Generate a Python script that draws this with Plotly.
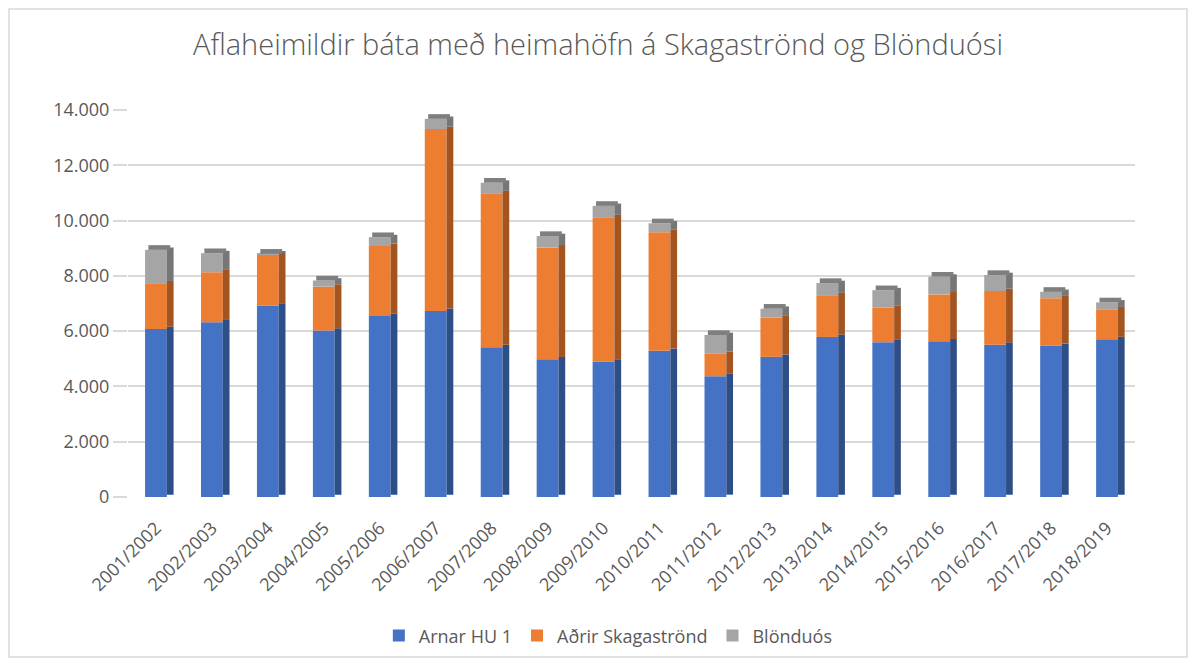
import numpy as np
import plotly.graph_objects as go

seasons = ['2001/2002', '2002/2003', '2003/2004', '2004/2005', '2005/2006', '2006/2007',
           '2007/2008', '2008/2009', '2009/2010', '2010/2011', '2011/2012', '2012/2013',
           '2013/2014', '2014/2015', '2015/2016', '2016/2017', '2017/2018', '2018/2019']
arnar = [6080, 6320, 6920, 6020, 6550, 6730, 5420, 4980, 4900, 5290, 4370, 5070,
         5790, 5600, 5630, 5510, 5470, 5710]
adrir = [1650, 1810, 1840, 1590, 2530, 6580, 5570, 4050, 5220, 4290, 810, 1420,
         1510, 1250, 1700, 1940, 1720, 1080]
blonduos = [1210, 690, 40, 220, 320, 370, 380, 410, 410, 320, 680, 320,
            440, 630, 640, 580, 230, 250]
series_names = ['Arnar HU 1', 'Aðrir Skagaströnd', 'Blönduós']

FACE = ['#4472c4', '#ed7d31', '#a5a5a5']
SIDE = ['#2e4e88', '#a4541f', '#767676']
TOP = '#7f7f7f'
BAR_W = 0.39
DEPTH_W = 0.12
RISE = 170
FONT = 'Open Sans'
GREY_TXT = '#595959'

W, H = 1180, 650
L, R, T, B = 120, 53, 102, 161
PW, PH = W - L - R, H - T - B

values = [np.array(arnar), np.array(adrir), np.array(blonduos)]
bases = [np.zeros(len(seasons)), values[0], values[0] + values[1]]
total = values[0] + values[1] + values[2]

fig = go.Figure()
for i in range(3):
    fig.add_trace(go.Bar(x=seasons, y=values[i], base=bases[i], name=series_names[i],
                         marker=dict(color=FACE[i], line=dict(width=0)),
                         width=BAR_W, offset=-BAR_W / 2, hoverinfo='skip'))
# darker side faces and top caps to mimic the 3D look
for i in range(3):
    fig.add_trace(go.Bar(x=seasons, y=values[i], base=bases[i] + RISE / 2, showlegend=False,
                         marker=dict(color=SIDE[i], line=dict(width=0)),
                         width=DEPTH_W, offset=BAR_W / 2, hoverinfo='skip'))
fig.add_trace(go.Bar(x=seasons, y=[RISE] * len(seasons), base=total, showlegend=False,
                     marker=dict(color=TOP, line=dict(width=0)),
                     width=BAR_W, offset=-BAR_W / 2 + DEPTH_W / 2, hoverinfo='skip'))

fig.update_layout(
    width=W, height=H,
    barmode='overlay',
    separators=',.',
    paper_bgcolor='white', plot_bgcolor='white',
    margin=dict(l=L, r=R, t=T, b=B),
    font=dict(family=FONT, color=GREY_TXT, size=18),
    title=dict(text='Aflaheimildir báta með heimahöfn á Skagaströnd og Blönduósi',
               x=0.5, xanchor='center', y=0.943, yanchor='middle',
               font=dict(family=FONT, size=29, color=GREY_TXT, weight=300)),
    legend=dict(orientation='h', x=0.477, xanchor='center', y=0.034, yanchor='middle',
                yref='container', font=dict(size=18, color=GREY_TXT),
                traceorder='normal', itemwidth=30),
    xaxis=dict(tickangle=-45, showgrid=False, showline=False, ticks='',
               ticklabelstandoff=16, tickfont=dict(size=18, color=GREY_TXT)),
    yaxis=dict(range=[0, 14000], dtick=2000, tickformat=',d', showgrid=True,
               gridcolor='#d9d9d9', gridwidth=1.5, zeroline=False, ticks='outside',
               ticklen=14, tickcolor='#d9d9d9', tickwidth=1.5,
               tickfont=dict(size=18, color=GREY_TXT)),
    shapes=[dict(type='rect', xref='paper', yref='paper', x0=-(L - 1) / PW, x1=1 + (R - 1) / PW,
                 y0=-(B - 1) / PH, y1=1 + (T - 1) / PH, line=dict(color='#d9d9d9', width=1.5))],
)

fig.write_html('out.html')
